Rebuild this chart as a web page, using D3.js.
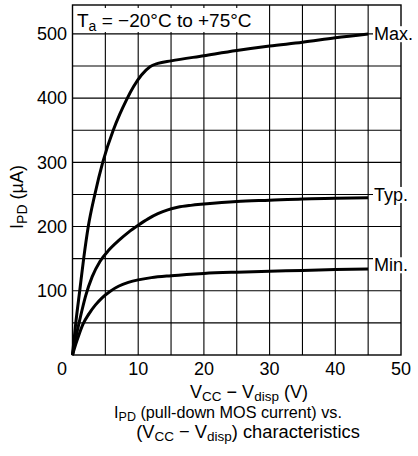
<!DOCTYPE html>
<html><head><meta charset="utf-8">
<script src="https://cdn.jsdelivr.net/npm/d3@7"></script>
<style>
body{margin:0;background:#fff;}
svg{display:block;font-family:"Liberation Sans",Arial,Helvetica,sans-serif;}
</style></head>
<body>
<svg id="c" width="418" height="456"></svg>
<script>
// Data
const maxV = [0, 0.5, 1.1, 1.7, 2.4, 3.4, 4.6, 6.2, 7.2, 8.2, 9.3, 10.5, 11.8, 13, 15, 20, 25, 30, 35, 40, 45];
const maxI = [0, 50, 100, 150, 200, 250, 300, 350, 375, 397, 418, 436, 449, 454, 458, 466, 474, 481, 487, 494, 500];
const typV = [0, 0.5, 1, 1.5, 2, 3, 4.2, 5.5, 7, 8.5, 10, 11.5, 13, 14.5, 16, 18, 20, 25, 30, 35, 40, 45];
const typI = [0, 27, 50, 72, 92, 122, 146, 163, 178, 191, 202, 212, 220, 226, 230, 233, 235, 239, 241, 243, 244, 245];
const minV = [0, 0.5, 1, 1.6, 2.5, 3.5, 4.5, 5.7, 7, 8.5, 10, 12, 15, 20, 25, 30, 35, 40, 45];
const minI = [0, 17, 32, 48, 64, 78, 89, 99, 107, 113, 117, 120.5, 123.5, 127, 129, 130.5, 131.5, 133, 134];
const seriesNames = ["Max.", "Typ.", "Min."];
const xTicks = [10, 20, 30, 40, 50];
const yTicks = [100, 200, 300, 400, 500];
const xGrid = [5, 10, 15, 20, 25, 30, 35, 40, 45];
const yGrid = [50, 100, 150, 200, 250, 300, 350, 400, 450, 500];

const svg = d3.select("#c");
const x = d3.scaleLinear().domain([0, 50]).range([72.5, 401]);
const y = d3.scaleLinear().domain([0, 545]).range([355, 5]);

const g = svg.append("g");
// grid
g.selectAll(".vg").data(xGrid).join("line")
  .attr("x1", d => x(d)).attr("x2", d => x(d))
  .attr("y1", y(0)).attr("y2", y(545))
  .attr("stroke", "#000").attr("stroke-width", 1.1);
g.selectAll(".hg").data(yGrid).join("line")
  .attr("x1", x(0)).attr("x2", x(50))
  .attr("y1", d => y(d)).attr("y2", d => y(d))
  .attr("stroke", "#000").attr("stroke-width", 1.1);
// frame
g.append("rect").attr("x", x(0)).attr("y", y(545))
  .attr("width", x(50) - x(0)).attr("height", y(0) - y(545))
  .attr("fill", "none").attr("stroke", "#000").attr("stroke-width", 1.4);

// curves
const line = d3.line().x(d => x(d[0])).y(d => y(d[1])).curve(d3.curveMonotoneX);
const series = [
  d3.zip(maxV, maxI),
  d3.zip(typV, typI),
  d3.zip(minV, minI)
];
g.selectAll(".curve").data(series).join("path")
  .attr("d", line).attr("fill", "none")
  .attr("stroke", "#000").attr("stroke-width", 3).attr("stroke-linejoin", "round");

// series labels with white background
const lastI = [maxI[maxI.length-1], typI[typI.length-1], minI[minI.length-1]];
const labelOffset = [0, -3, -4];
seriesNames.forEach((n, i) => {
  const t = svg.append("text").attr("x", 374).attr("y", y(lastI[i]) + labelOffset[i])
    .attr("dy", "0.35em").attr("font-size", 18).text(n);
  const b = t.node().getBBox();
  svg.insert("rect", "text").attr("x", b.x - 1).attr("y", b.y + 2)
    .attr("width", b.width + 2).attr("height", b.height - 4).attr("fill", "#fff");
});

// temperature box
const tt = svg.append("text").attr("x", 77).attr("y", 27).attr("font-size", 19);
tt.append("tspan").text("T");
tt.append("tspan").attr("dy", 4).attr("font-size", 14).text("a");
tt.append("tspan").attr("dy", -4).text(" = \u221220\u00b0C to +75\u00b0C");
const tb = tt.node().getBBox();
svg.insert("rect", "text").attr("x", tb.x - 3).attr("y", 8)
  .attr("width", tb.width + 6).attr("height", 24).attr("fill", "#fff");

// tick labels
svg.selectAll(".yt").data(yTicks).join("text")
  .attr("x", 67).attr("y", d => y(d)).attr("dy", "0.35em")
  .attr("text-anchor", "end").attr("font-size", 18).text(d => d);
svg.selectAll(".xt").data(xTicks).join("text")
  .attr("x", d => x(d)).attr("y", 375)
  .attr("text-anchor", "middle").attr("font-size", 18).text(d => d);
svg.append("text").attr("x", 62).attr("y", 375).attr("text-anchor", "middle")
  .attr("font-size", 18).text("0");

// y-axis title
const yt = svg.append("text").attr("transform", "translate(23,197) rotate(-90)")
  .attr("text-anchor", "middle").attr("font-size", 18);
yt.append("tspan").text("I");
yt.append("tspan").attr("dy", 4).attr("font-size", 14).text("PD");
yt.append("tspan").attr("dy", -4).text(" (\u00b5A)");

// x-axis title
const xt = svg.append("text").attr("x", 249).attr("y", 398).attr("text-anchor", "middle").attr("font-size", 18);
xt.append("tspan").text("V");
xt.append("tspan").attr("dy", 3).attr("font-size", 13.5).text("CC");
xt.append("tspan").attr("dy", -3).text(" \u2212 V");
xt.append("tspan").attr("dy", 3).attr("font-size", 13.5).text("disp");
xt.append("tspan").attr("dy", -3).text(" (V)");

const c1 = svg.append("text").attr("x", 228).attr("y", 418).attr("text-anchor", "middle").attr("font-size", 16.2);
c1.append("tspan").text("I");
c1.append("tspan").attr("dy", 3).attr("font-size", 12.5).text("PD");
c1.append("tspan").attr("dy", -3).text(" (pull-down MOS current) vs.");

const c2 = svg.append("text").attr("x", 248).attr("y", 438).attr("text-anchor", "middle").attr("font-size", 18.3);
c2.append("tspan").text("(V");
c2.append("tspan").attr("dy", 3).attr("font-size", 13.5).text("CC");
c2.append("tspan").attr("dy", -3).text(" \u2212 V");
c2.append("tspan").attr("dy", 3).attr("font-size", 13.5).text("disp");
c2.append("tspan").attr("dy", -3).text(") characteristics");
</script>
</body></html>
